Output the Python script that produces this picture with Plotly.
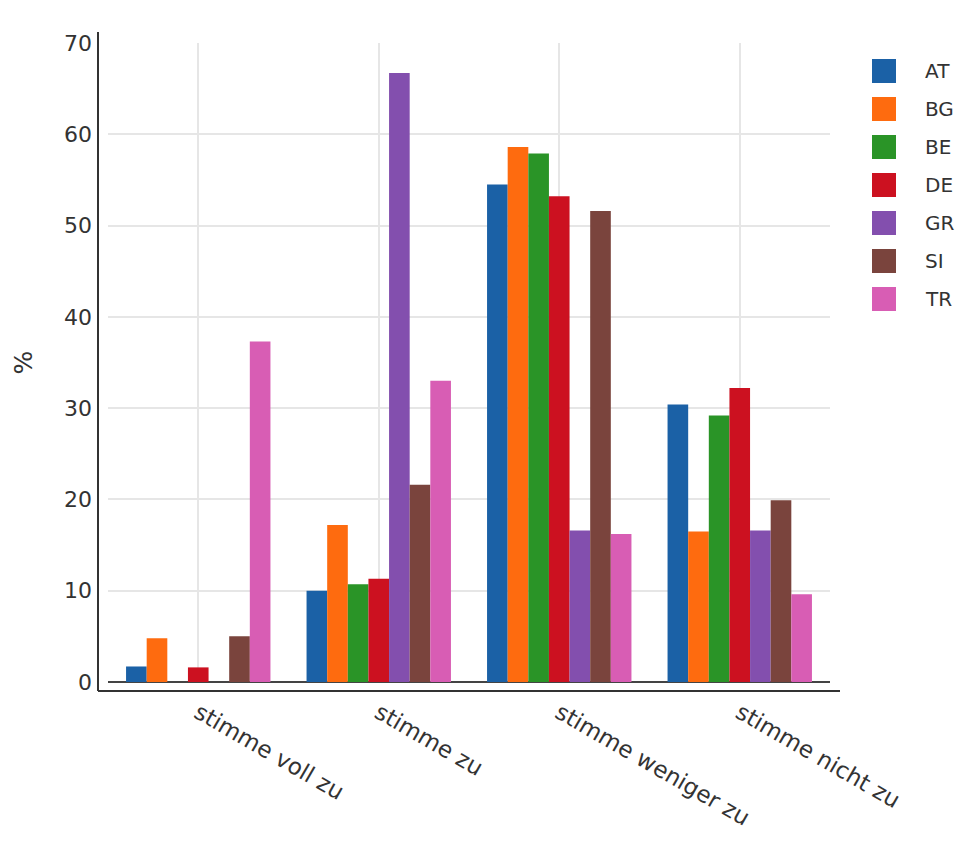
import plotly.graph_objects as go

categories = ["stimme voll zu", "stimme zu", "stimme weniger zu", "stimme nicht zu"]
countries = ["AT", "BG", "BE", "DE", "GR", "SI", "TR"]

AT = [1.7, 10.0, 54.5, 30.4]
BG = [4.8, 17.2, 58.6, 16.5]
BE = [0.0, 10.7, 57.9, 29.2]
DE = [1.6, 11.3, 53.2, 32.2]
GR = [0.0, 66.7, 16.6, 16.6]
SI = [5.0, 21.6, 51.6, 19.9]
TR = [37.3, 33.0, 16.2, 9.6]

values = [AT, BG, BE, DE, GR, SI, TR]
colors = ["#1b61a6", "#fe6b0f", "#2a9427", "#cc1120", "#834fae", "#7a443d", "#d85db4"]

FONT = "DejaVu Sans"
TXT = "#333333"

# page has an 8px body margin, so figure coords = page coords - 8
OFF = 8
FW, FH = 974 - OFF, 854 - OFF
L, R, T, B = 108 - OFF, 830 - OFF, 43 - OFF, 682 - OFF
W, H = R - L, B - T


def px(x):
    return (x - OFF - L) / W


def py(y):
    return (B - (y - OFF)) / H


fig = go.Figure()
for name, vals, col in zip(countries, values, colors):
    fig.add_trace(go.Bar(x=categories, y=vals, name=name,
                         marker=dict(color=col, line=dict(width=0)),
                         showlegend=False))

shapes = [
    # hide the gridline at the very top of the range
    dict(type="line", xref="paper", yref="y", x0=0, x1=1, y0=70, y1=70,
         line=dict(color="white", width=4), layer="between"),
    # axis lines sit a little outside the plot area, like the original
    dict(type="line", xref="paper", yref="paper", x0=px(98), x1=px(98), y0=py(691), y1=py(32),
         line=dict(color=TXT, width=2)),
    dict(type="line", xref="paper", yref="paper", x0=px(98), x1=px(840), y0=py(691), y1=py(691),
         line=dict(color=TXT, width=2)),
]
annotations = []
# hand-built legend (bigger swatches than plotly's own)
for i, (name, col) in enumerate(zip(countries, colors)):
    top = 59 + 38 * i
    shapes.append(dict(type="rect", xref="paper", yref="paper",
                       x0=px(872), x1=px(896), y0=py(top + 24), y1=py(top),
                       fillcolor=col, line=dict(width=0)))
    annotations.append(dict(xref="paper", yref="paper", x=px(923), y=py(top + 12),
                            text=name, showarrow=False, xanchor="left", yanchor="middle",
                            font=dict(family=FONT, size=20, color=TXT)))

fig.update_layout(
    width=FW, height=FH,
    margin=dict(l=L, r=FW - R, t=T, b=FH - B, autoexpand=False),
    paper_bgcolor="white", plot_bgcolor="white",
    barmode="group", bargap=0.2, bargroupgap=0,
    font=dict(family=FONT, color=TXT),
    shapes=shapes, annotations=annotations,
    showlegend=False,
)
fig.update_xaxes(
    showgrid=True, gridcolor="#e6e6e6", gridwidth=2,
    showline=False, zeroline=False, ticks="",
    tickangle=30, ticklabelstandoff=12,
    tickfont=dict(family=FONT, size=23, color=TXT),
    range=[-0.5, 3.5],
)
fig.update_yaxes(
    range=[0, 70], dtick=10,
    showgrid=True, gridcolor="#e6e6e6", gridwidth=2,
    showline=False, zeroline=True, zerolinecolor="#444444", zerolinewidth=2,
    ticks="", ticklabelstandoff=15,
    tickfont=dict(family=FONT, size=22, color=TXT),
    title=dict(text="%", font=dict(family=FONT, size=25, color=TXT), standoff=24),
)

fig.write_html("out.html")
